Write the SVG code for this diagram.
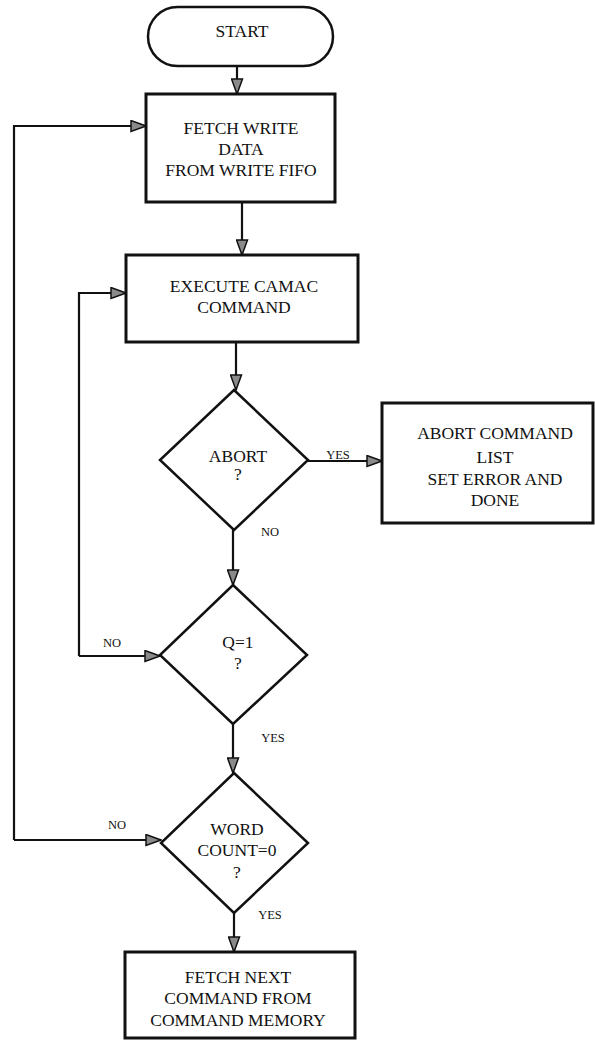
<svg xmlns="http://www.w3.org/2000/svg" width="595" height="1040" viewBox="0 0 595 1040">
<style>
.box{fill:#fff;stroke:#111;stroke-width:3}
.dia{fill:#fff;stroke:#111;stroke-width:2.5}
.t{font-family:"Liberation Serif","Times New Roman",serif;font-size:17.5px;fill:#111;text-anchor:middle}
.l{font-family:"Liberation Serif","Times New Roman",serif;font-size:12.5px;fill:#111;text-anchor:middle}
.c{fill:none;stroke:#111;stroke-width:2.2}
</style>
<defs>
<marker id="arr" markerWidth="17" markerHeight="13" refX="16" refY="6.5" orient="auto" markerUnits="userSpaceOnUse">
<path d="M1,1 L16,6.5 L1,12 Z" fill="#8a8a8a" stroke="#111" stroke-width="1.5"/>
</marker>
</defs>
<rect width="595" height="1040" fill="#fff"/>
<g id="connectors">
<path class="c" d="M237,66 V94" marker-end="url(#arr)"/>
<path class="c" d="M14,840 V126 H146" marker-end="url(#arr)"/>
<path class="c" d="M14,840 H161" marker-end="url(#arr)"/>
<path class="c" d="M242,202 V255" marker-end="url(#arr)"/>
<path class="c" d="M79,656 V293 H126" marker-end="url(#arr)"/>
<path class="c" d="M79,656 H160" marker-end="url(#arr)"/>
<path class="c" d="M236,342 V390" marker-end="url(#arr)"/>
<path class="c" d="M308,461 H382" marker-end="url(#arr)"/>
<path class="c" d="M233,530 V585" marker-end="url(#arr)"/>
<path class="c" d="M233,724 V773" marker-end="url(#arr)"/>
<path class="c" d="M234,913 V952" marker-end="url(#arr)"/>
<text class="l" x="338" y="459">YES</text>
<text class="l" x="270" y="536">NO</text>
<text class="l" x="112" y="647">NO</text>
<text class="l" x="273" y="742">YES</text>
<text class="l" x="117" y="829">NO</text>
<text class="l" x="270" y="919">YES</text>
</g>
<g id="start">
<rect class="dia" x="148" y="7" width="185" height="59" rx="29.5"/>
<text class="t" x="242" y="37">START</text>
</g>
<g id="fetch">
<rect class="box" x="146" y="94" width="189" height="108"/>
<text class="t" x="241" y="134">FETCH WRITE</text>
<text class="t" x="241" y="155">DATA</text>
<text class="t" x="241" y="176">FROM WRITE FIFO</text>
</g>
<g id="execute">
<rect class="box" x="126" y="255" width="232" height="87"/>
<text class="t" x="244" y="292">EXECUTE CAMAC</text>
<text class="t" x="244" y="313">COMMAND</text>
</g>
<g id="abort">
<polygon class="dia" points="234,390 308,460 234,530 160,460"/>
<text class="t" x="238" y="462">ABORT</text>
<text class="t" x="238" y="480">?</text>
</g>
<g id="abortbox">
<rect class="box" x="382" y="403" width="211" height="120"/>
<text class="t" x="495" y="439">ABORT COMMAND</text>
<text class="t" x="495" y="463">LIST</text>
<text class="t" x="495" y="485">SET ERROR AND</text>
<text class="t" x="495" y="506">DONE</text>
</g>
<g id="q">
<polygon class="dia" points="233,585 307,655 233,724 160,655"/>
<text class="t" x="238" y="648">Q=1</text>
<text class="t" x="238" y="669">?</text>
</g>
<g id="wordcount">
<polygon class="dia" points="234,773 308,843 234,913 161,843"/>
<text class="t" x="237" y="835">WORD</text>
<text class="t" x="237" y="856">COUNT=0</text>
<text class="t" x="237" y="878">?</text>
</g>
<g id="fetchnext">
<rect class="box" x="125" y="952" width="230" height="86"/>
<text class="t" x="238" y="983">FETCH NEXT</text>
<text class="t" x="238" y="1004">COMMAND FROM</text>
<text class="t" x="238" y="1026">COMMAND MEMORY</text>
</g>
</svg>
